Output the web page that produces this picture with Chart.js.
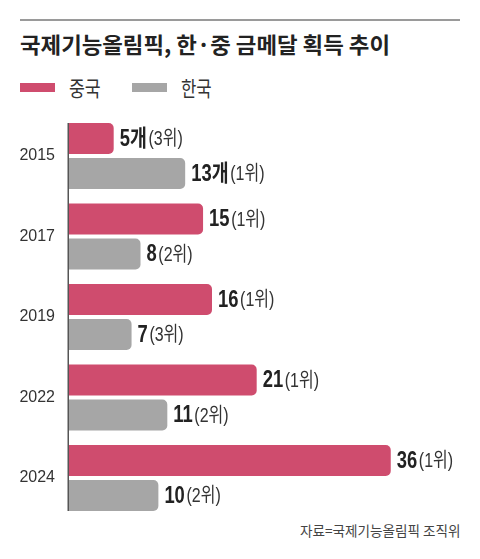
<!DOCTYPE html>
<html>
<head>
<meta charset="utf-8">
<script src="https://cdn.jsdelivr.net/npm/chart.js@4"></script>
<style>
body { margin: 0; width: 480px; height: 559px; background: #fff; position: relative; overflow: hidden; font-family: "Noto Sans CJK KR", sans-serif; }
#rule { position: absolute; left: 20px; top: 19px; width: 440px; height: 2px; background: #9a9a9a; }
#title { position: absolute; left: 20px; top: 28px; font-size: 22px; font-weight: bold; color: #222; white-space: nowrap; transform-origin: 0 0; line-height: 30px; }
.swatch { position: absolute; top: 83px; width: 35px; height: 9px; }
.legend-text { position: absolute; top: 74px; font-size: 21px; color: #333; line-height: 26px; white-space: nowrap; transform-origin: 0 0; }
#source { position: absolute; right: 20px; top: 520px; font-size: 14px; color: #444; line-height: 20px; white-space: nowrap; transform-origin: 100% 0; }
#wrap { position: absolute; left: 0; top: 100px; width: 480px; height: 430px; }
</style>
</head>
<body>
<div id="rule"></div>
<div id="title">국제기능올림픽, 한·중 금메달 획득 추이</div>
<div class="swatch" style="left:20px;background:#cf4c6e"></div>
<div class="legend-text" id="leg1" style="left:69px">중국</div>
<div class="swatch" style="left:132px;background:#a6a6a6"></div>
<div class="legend-text" id="leg2" style="left:181px">한국</div>
<div id="source">자료=국제기능올림픽 조직위</div>
<div id="wrap"><canvas id="chart" width="480" height="430"></canvas></div>
<script>
var years = ['2015', '2017', '2019', '2022', '2024'];
var chinaGold = [5, 15, 16, 21, 36];
var koreaGold = [13, 8, 7, 11, 10];
var chinaRank = [3, 1, 1, 1, 1];
var koreaRank = [1, 2, 3, 2, 2];
var unitText = ['개', '', '', '', ''];

var pink = '#cf4c6e';
var gray = '#a6a6a6';

// squeeze html text to the width it has in the picture
function fitWidth(id, w) {
  var el = document.getElementById(id);
  el.style.transform = 'scaleX(' + (w / el.offsetWidth) + ')';
}
fitWidth('title', 370);
fitWidth('leg1', 32);
fitWidth('leg2', 31);
fitWidth('source', 160);

var axisLine = {
  id: 'axisLine',
  afterDatasetsDraw: function(chart) {
    var first = chart.getDatasetMeta(0).data[0];
    var lastMeta = chart.getDatasetMeta(1).data;
    var last = lastMeta[lastMeta.length - 1];
    var ctx = chart.ctx;
    ctx.save();
    ctx.strokeStyle = '#555';
    ctx.lineWidth = 1.5;
    ctx.beginPath();
    ctx.moveTo(chart.chartArea.left - 0.75, first.y - first.height / 2);
    ctx.lineTo(chart.chartArea.left - 0.75, last.y + last.height / 2);
    ctx.stroke();
    ctx.restore();
  }
};

var barLabels = {
  id: 'barLabels',
  afterDatasetsDraw: function(chart) {
    var ctx = chart.ctx;
    var ranks = [chinaRank, koreaRank];
    chart.data.datasets.forEach(function(ds, i) {
      chart.getDatasetMeta(i).data.forEach(function(bar, j) {
        var big = ds.data[j] + unitText[j];
        var small = '(' + ranks[i][j] + '위)';
        ctx.save();
        ctx.translate(bar.x + 6, bar.y + 1);
        ctx.scale(0.8, 1);
        ctx.textBaseline = 'middle';
        ctx.textAlign = 'left';
        ctx.font = 'bold 23px "Liberation Sans", "Noto Sans CJK KR", sans-serif';
        ctx.fillStyle = '#222';
        ctx.fillText(big, 0, 0);
        var w = ctx.measureText(big).width;
        ctx.font = '20px "Liberation Sans", "Noto Sans CJK KR", sans-serif';
        ctx.fillStyle = '#333';
        ctx.fillText(small, w + 2, 0);
        ctx.restore();
      });
    });
  }
};

new Chart(document.getElementById('chart'), {
  type: 'bar',
  data: {
    labels: years,
    datasets: [
      { label: '중국', data: chinaGold, backgroundColor: pink, borderRadius: 5, categoryPercentage: 0.87, barPercentage: 0.886 },
      { label: '한국', data: koreaGold, backgroundColor: gray, borderRadius: 5, categoryPercentage: 0.87, barPercentage: 0.886 }
    ]
  },
  options: {
    indexAxis: 'y',
    responsive: false,
    animation: false,
    devicePixelRatio: 1,
    layout: { padding: { left: 0, right: 53.5, top: 15.75, bottom: 11.75 } },
    plugins: { legend: { display: false }, tooltip: { enabled: false } },
    scales: {
      x: { display: false, min: 0, max: 40 },
      y: {
        afterFit: function(scale) {
          scale.width = 69;
          scale.paddingTop = 0;
          scale.paddingBottom = 0;
        },
        grid: { display: false, drawTicks: false },
        border: { display: false },
        ticks: { color: '#333', padding: 14, font: { family: '"Liberation Sans", sans-serif', size: 16 } }
      }
    }
  },
  plugins: [axisLine, barLabels]
});
</script>
</body>
</html>
